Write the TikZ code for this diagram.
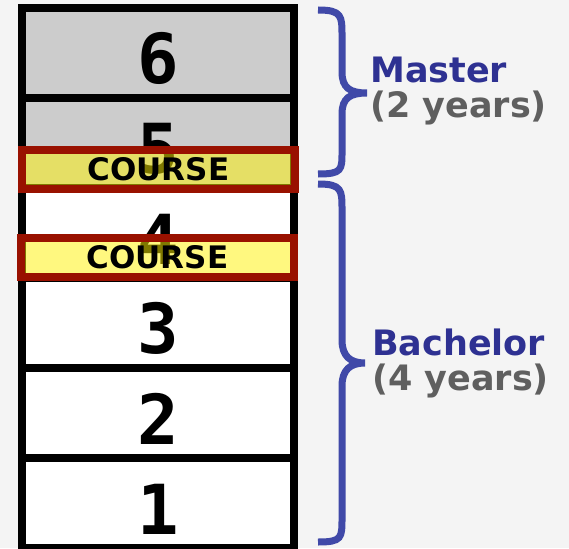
\documentclass[tikz,border=0pt]{standalone}
\usepackage{fontspec}
\usepackage{xcolor}
\usepackage{tikz}
\usetikzlibrary{positioning}
\newfontfamily\numfont{DejaVu Sans Mono}
\newfontfamily\headfont{DejaVu Sans}
\definecolor{pagegray}{HTML}{F4F4F4}
\definecolor{rowgray}{HTML}{CCCCCC}
\definecolor{coursered}{HTML}{991100}
\definecolor{degreeblue}{HTML}{2E3192}
\definecolor{braceblue}{HTML}{4049A8}
\definecolor{yeargray}{HTML}{5F5F5F}
\tikzset{
  yearbox/.style={draw, line width=8pt, outer sep=0pt, inner sep=0pt, minimum width=272pt, minimum height=90pt, text height=62pt, font=\numfont\bfseries\fontsize{69}{69}\selectfont},
  coursebox/.style={draw=coursered, line width=8pt, fill=yellow, fill opacity=0.5, text opacity=1, inner sep=0pt, minimum width=273pt, minimum height=39pt, font=\headfont\bfseries\fontsize{31}{31}\selectfont},
  degree/.style={anchor=base west, inner sep=0pt, text=degreeblue, font=\headfont\bfseries\fontsize{35}{35}\selectfont},
  duration/.style={anchor=base west, inner sep=0pt, text=yeargray, font=\headfont\bfseries\fontsize{35}{35}\selectfont},
  studybrace/.style={draw=braceblue, line width=7pt}
}
\begin{document}
\begin{tikzpicture}[x=1pt, y=-1pt]
        \fill[pagegray] (0,0) rectangle (569,548);
        \useasboundingbox (0,0) rectangle (569,548);

        % Study years, stacked from the bottom up
        \node[yearbox, fill=white] (y1) at (158,503) {1};
        \node[yearbox, fill=white, above=0pt of y1] (y2) {2};
        \node[yearbox, fill=white, above=0pt of y2] (y3) {3};
        \node[yearbox, fill=white, above=0pt of y3] (y4) {4};
        \node[yearbox, fill=rowgray, above=0pt of y4] (y5) {5};
        \node[yearbox, fill=rowgray, above=0pt of y5] (y6) {6};

        % Courses laid over the years
        \node[coursebox] (courseA) at (158.5,169.5) {COURSE};
        \node[coursebox] (courseB) at (157.5,257.5) {COURSE};

        % Braces for the two degrees
        \draw[studybrace] (318,10) .. controls (342,10) and (342,16) .. (342,36) -- (342,72) .. controls (342,88) and (350,93) .. (367,93) .. controls (350,93) and (342,98) .. (342,114) -- (342,152) .. controls (342,170) and (342,174) .. (318,174);
        \draw[studybrace] (318,184) .. controls (342,184) and (342,190) .. (342,210) -- (342,340) .. controls (342,356) and (350,363) .. (365,363) .. controls (350,363) and (342,370) .. (342,386) -- (342,518) .. controls (342,538) and (342,542) .. (318,542);

        % Degree names
        \node[degree] (master) at (370,83) {Master};
        \node[duration] (masteryrs) at (370,118) {(2 years)};
        \node[degree] (bachelor) at (372,355) {Bachelor};
        \node[duration] (bacheloryrs) at (372,390) {(4 years)};
\end{tikzpicture}
\end{document}
